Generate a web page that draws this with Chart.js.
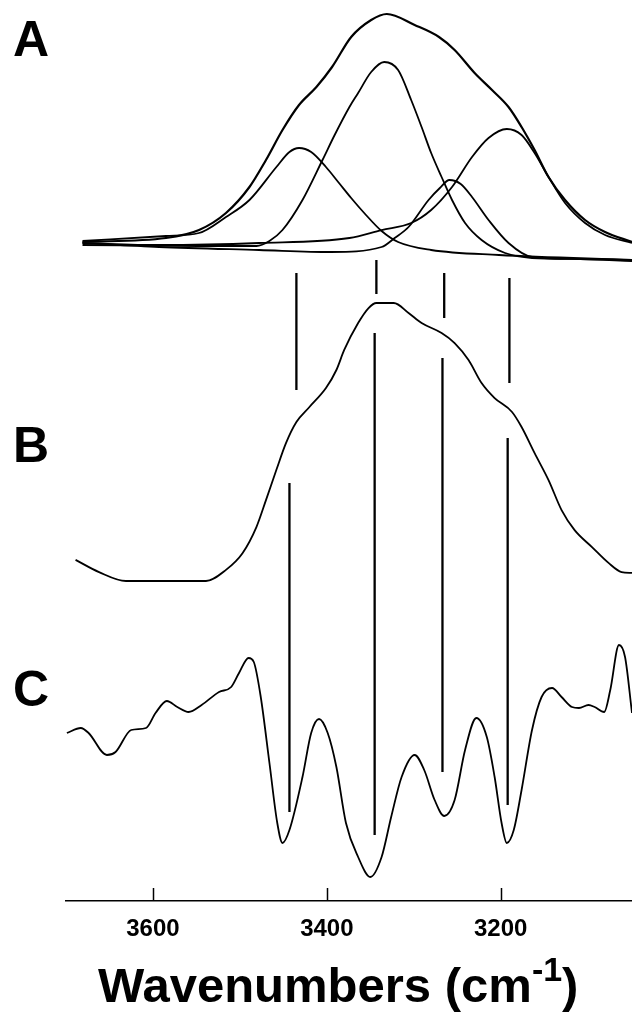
<!DOCTYPE html>
<html>
<head>
<meta charset="utf-8">
<script src="https://cdn.jsdelivr.net/npm/chart.js@4.4.1/dist/chart.umd.min.js"></script>
<style>
  html, body { margin: 0; padding: 0; background: #fff; }
  #wrap { position: relative; width: 632px; height: 1014px; overflow: hidden; }
  canvas { display: block; }
  .lbl { position: absolute; font-family: "Liberation Sans", Arial, sans-serif; font-weight: bold; color: #000; white-space: nowrap; }
  .panel { font-size: 50px; line-height: 50px; left: 13px; }
  #xtitle { font-size: 49px; line-height: 49px; left: 98px; top: 961px; }
  #xtitle sup { font-size: 34px; line-height: 0; vertical-align: 21px; }
</style>
</head>
<body>
<div id="wrap">
  <canvas id="c" width="632" height="1014"></canvas>
  <div class="lbl panel" style="top:14px">A</div>
  <div class="lbl panel" style="top:420px">B</div>
  <div class="lbl panel" style="top:664px">C</div>
  <div class="lbl" id="xtitle">Wavenumbers (cm<sup>-1</sup>)</div>
</div>
<script>
// ---------- DATA ----------
// Panel A: curve-fit of the O-H/N-H band (absorbance, arbitrary units)
const A_SUM_WN  = [3681,3585,3547,3516,3489,3470,3451,3432,3412,3394,3372,3349,3331,3299,3271,3253,3230,3210,3191,3176,3161,3145,3126,3103,3080,3049];
const A_SUM_ABS = [0.04,0.06,0.10,0.185,0.315,0.45,0.60,0.725,0.815,0.915,1.065,1.15,1.18,1.125,1.065,1.0,0.885,0.80,0.715,0.615,0.50,0.365,0.25,0.15,0.09,0.04];

const A_C1_WN  = [3681,3585,3547,3516,3489,3458,3443,3432,3418,3401,3386,3372,3357,3337,3318,3280,3202,3049];
const A_C1_ABS = [0.045,0.07,0.085,0.165,0.25,0.415,0.49,0.51,0.49,0.415,0.335,0.26,0.185,0.095,0.04,0.0,-0.025,-0.05];

const A_C2_WN  = [3681,3547,3481,3466,3451,3428,3405,3391,3374,3364,3349,3334,3318,3303,3291,3280,3268,3256,3241,3222,3195,3164,3109,3049];
const A_C2_ABS = [0.025,0.02,0.02,0.045,0.10,0.25,0.45,0.575,0.715,0.785,0.89,0.94,0.90,0.75,0.615,0.485,0.365,0.25,0.135,0.05,-0.015,-0.04,-0.045,-0.055];

const A_C3_WN  = [3681,3593,3478,3395,3337,3322,3306,3283,3270,3259,3246,3233,3214,3191,3164,3109,3049];
const A_C3_ABS = [0.035,0.015,0.0,-0.01,0.015,0.06,0.115,0.25,0.31,0.35,0.33,0.265,0.15,0.035,-0.035,-0.045,-0.05];

const A_C4_WN  = [3681,3593,3478,3374,3337,3303,3280,3256,3233,3214,3193,3176,3161,3145,3126,3103,3080,3049];
const A_C4_ABS = [0.035,0.025,0.035,0.06,0.10,0.135,0.20,0.315,0.465,0.56,0.605,0.575,0.485,0.365,0.235,0.135,0.075,0.035];

// Panel B: original spectrum (normalised absorbance)
const B_WN  = [3689,3662,3631,3539,3516,3497,3481,3470,3458,3447,3435,3420,3401,3389,3380,3364,3352,3343,3323,3306,3291,3268,3253,3237,3222,3207,3187,3176,3161,3145,3130,3115,3095,3076,3061,3049];
const B_ABS = [0.076,0.032,0,0,0.04,0.10,0.194,0.291,0.40,0.496,0.572,0.626,0.694,0.759,0.831,0.928,0.982,1.0,1.0,0.964,0.928,0.892,0.856,0.795,0.712,0.658,0.608,0.554,0.46,0.363,0.255,0.183,0.122,0.065,0.032,0.029];

// Panel C: second derivative (arbitrary units)
const C_WN  = [3699,3683,3674,3653,3643,3625,3608,3597,3584,3572,3559,3544,3524,3510,3501,3490,3484,3476,3466,3457,3451,3443,3428,3418,3409,3399,3389,3378,3364,3350,3337,3326,3314,3299,3288,3276,3265,3253,3241,3228,3216,3207,3199,3193,3185,3176,3164,3153,3141,3130,3118,3110,3099,3092,3081,3074,3064,3057,3049];
const C_D2  = [-0.13,-0.08,-0.13,-0.35,-0.32,-0.10,-0.08,0.07,0.19,0.13,0.08,0.15,0.28,0.33,0.47,0.62,0.58,0.23,-0.43,-1.03,-1.23,-1.10,-0.57,-0.13,0.01,-0.13,-0.47,-1.03,-1.37,-1.57,-1.37,-0.97,-0.57,-0.35,-0.50,-0.80,-0.96,-0.80,-0.30,0.02,-0.17,-0.57,-1.03,-1.23,-1.10,-0.70,-0.10,0.23,0.32,0.23,0.13,0.12,0.15,0.13,0.08,0.30,0.75,0.63,0.07];

// Band-position markers (cm-1)
const MARK_UPPER_WN = [3435,3343,3265,3190];
const MARK_LOWER_WN = [3443,3345,3267,3192];

// Axis ticks
const X_TICKS = [3600,3400,3200];

// ---------- LAYOUT (stacking of the panels on a 0..100 plot scale) ----------
const PANEL = {
  A: { offset: 72.253, gain: 22.197 },
  B: { offset: 35.516, gain: 30.855 },
  C: { offset: 20.089, gain: 11.099 }
};
const MARK_UPPER_Y = [[69.70,56.71],[71.14,67.37],[69.70,64.71],[69.15,57.49]];
const MARK_LOWER_Y = [[46.39,9.88],[63.04,7.33],[60.27,14.32],[51.39,10.65]];
const X_MIN = 3049, X_MAX = 3700;

function series(wn, vals, p) {
  return wn.map((w, i) => ({ x: w, y: PANEL[p].offset + PANEL[p].gain * vals[i] }));
}
function curve(data, width) {
  return { data, borderColor: '#000', borderWidth: width, pointRadius: 0, fill: false,
           cubicInterpolationMode: 'monotone', tension: 0.4 };
}
function marker(w, ys) {
  return { data: [{x: w, y: ys[0]}, {x: w, y: ys[1]}], borderColor: '#000', borderWidth: 2.3,
           pointRadius: 0, fill: false, tension: 0 };
}

const datasets = [
  curve(series(A_SUM_WN, A_SUM_ABS, 'A'), 2.2),
  curve(series(A_C1_WN, A_C1_ABS, 'A'), 1.8),
  curve(series(A_C2_WN, A_C2_ABS, 'A'), 1.8),
  curve(series(A_C3_WN, A_C3_ABS, 'A'), 1.8),
  curve(series(A_C4_WN, A_C4_ABS, 'A'), 1.8),
  curve(series(B_WN, B_ABS, 'B'), 1.8),
  curve(series(C_WN, C_D2, 'C'), 1.8)
];
MARK_UPPER_WN.forEach((w, i) => datasets.push(marker(w, MARK_UPPER_Y[i])));
MARK_LOWER_WN.forEach((w, i) => datasets.push(marker(w, MARK_LOWER_Y[i])));

const innerTicks = {
  id: 'innerTicks',
  afterDraw(chart) {
    const s = chart.scales.x, ctx = chart.ctx;
    ctx.save();
    ctx.strokeStyle = '#000';
    ctx.lineWidth = 1.5;
    s.ticks.forEach(t => {
      const px = Math.round(s.getPixelForValue(t.value)) + 0.5;
      ctx.beginPath();
      ctx.moveTo(px, s.top);
      ctx.lineTo(px, s.top - 13);
      ctx.stroke();
    });
    ctx.restore();
  }
};

new Chart(document.getElementById('c'), {
  type: 'line',
  data: { datasets },
  options: {
    responsive: false,
    animation: false,
    devicePixelRatio: 1,
    layout: { padding: { left: 66, right: 0, top: 0, bottom: 0 } },
    plugins: { legend: { display: false }, tooltip: { enabled: false } },
    scales: {
      x: {
        type: 'linear', reverse: true, min: X_MIN, max: X_MAX,
        afterBuildTicks: s => { s.ticks = X_TICKS.map(v => ({ value: v })); },
        afterFit: s => { s.height = 113; },
        grid: { display: true, drawOnChartArea: false, drawTicks: false },
        border: { display: true, color: '#000', width: 1.5 },
        ticks: { color: '#000', padding: 14, maxRotation: 0,
                 font: { family: '"Liberation Sans", Arial, sans-serif', size: 24, weight: 'bold' },
                 callback: v => String(v) }
      },
      y: { display: false, min: 0, max: 100 }
    }
  },
  plugins: [innerTicks]
});
</script>
</body>
</html>
